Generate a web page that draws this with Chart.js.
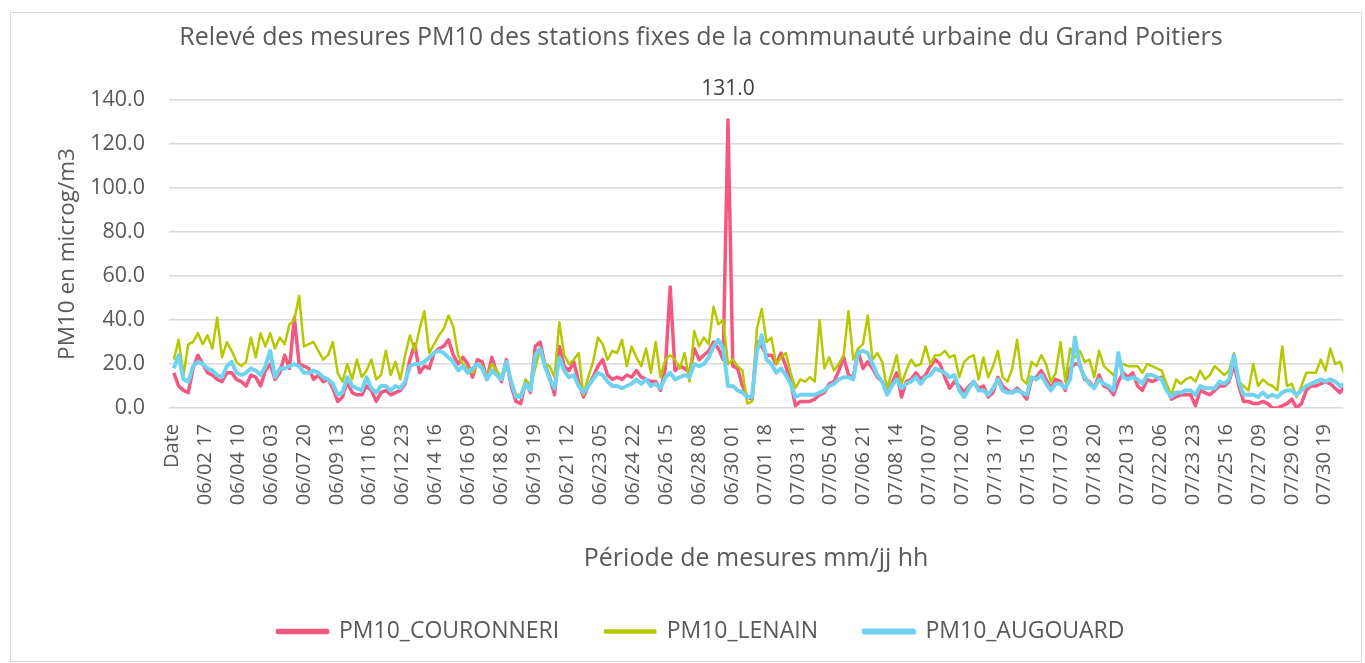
<!DOCTYPE html>
<html lang="fr">
<head>
<meta charset="utf-8">
<title>Relevé PM10 - Grand Poitiers</title>
<script src="https://cdn.jsdelivr.net/npm/chart.js@4.4.1/dist/chart.umd.min.js"></script>
<style>
	html, body { margin: 0; padding: 0; background: #fff; }
	.frame { position: absolute; left: 10px; top: 12px; width: 1350px; height: 648px; border: 1px solid #d9d9d9; }
	.wrap  { position: absolute; left: 0; top: 0; width: 1365px; height: 663px; }
</style>
</head>
<body>
<div class="frame"></div>
<div class="wrap"><canvas id="pm10-chart"></canvas></div>
<script>
var TITLE        = 'Relevé des mesures PM10 des stations fixes de la communauté urbaine du Grand Poitiers';
var SERIES_NAMES = [ 'PM10_COURONNERI', 'PM10_LENAIN', 'PM10_AUGOUARD' ];

// one label every 41 hourly categories, as on the original axis
var TICK_LABELS = [
	'Date', '06/02 17', '06/04 10', '06/06 03', '06/07 20', '06/09 13', '06/11 06', '06/12 23',
	'06/14 16', '06/16 09', '06/18 02', '06/19 19', '06/21 12', '06/23 05', '06/24 22', '06/26 15',
	'06/28 08', '06/30 01', '07/01 18', '07/03 11', '07/05 04', '07/06 21', '07/08 14', '07/10 07',
	'07/12 00', '07/13 17', '07/15 10', '07/17 03', '07/18 20', '07/20 13', '07/22 06', '07/23 23',
	'07/25 16', '07/27 09', '07/29 02', '07/30 19'
];
var TICK_STEP   = 41;
var FIRST_HOUR  = 2;  // category index of the first reading kept
var SAMPLE_STEP = 6;  // one reading every 6 hours

// readings in microg/m3, 4 per day, from 06/01 to 07/31
var COURONNERI = [
	16, 10, 8, 7,   18, 24, 20, 16,  15, 13, 12, 16,  16, 13, 12, 10,
	15, 14, 10, 17, 20, 13, 16, 24,  18, 41, 20, 19,  18, 13, 15, 12,
	13, 9, 3, 5,    12, 7, 6, 6,     10, 8, 3, 7,     8, 6, 7, 8,
	11, 22, 29, 16, 19, 18, 25, 27,  28, 31, 24, 20,  23, 20, 14, 22,
	21, 13, 23, 16, 12, 22, 10, 3,   2, 12, 7, 28,    30, 20, 14, 6,
	28, 19, 17, 21, 12, 5, 10, 14,   19, 22, 15, 13,  14, 13, 15, 14,
	17, 14, 13, 12, 12, 8, 18, 55,   17, 19, 18, 16,  27, 22, 24, 26,
	30, 27, 22, 131, 19, 18, 10, 5,  4, 30, 28, 24,   24, 20, 25, 19,
	12, 1, 3, 3,    3, 4, 6, 7,      11, 12, 17, 23,  15, 14, 26, 18,
	21, 18, 14, 12, 8, 11, 16, 5,    12, 13, 16, 13,  15, 19, 22, 20,
	14, 9, 12, 10,  7, 10, 12, 9,    10, 5, 7, 14,    10, 8, 7, 9,
	7, 4, 13, 14,   17, 13, 9, 13,   12, 8, 18, 20,   20, 13, 12, 9,
	15, 10, 9, 6,   12, 16, 14, 16,  10, 8, 13, 12,   13, 14, 10, 4,
	5, 6, 6, 6,     1, 8, 7, 6,      8, 10, 10, 12,   20, 10, 3, 3,
	2, 2, 3, 2,     0, 0, 1, 2,      4, 0, 2, 8,      10, 10, 11, 12,
	11, 9, 7, 10
];
var LENAIN = [
	22, 31, 15, 29, 30, 34, 29, 33,  27, 41, 23, 30,  26, 21, 19, 21,
	32, 23, 34, 28, 34, 27, 32, 29,  38, 40, 51, 28,  29, 30, 26, 22,
	24, 30, 16, 12, 20, 13, 22, 14,  17, 22, 13, 15,  26, 15, 21, 13,
	24, 33, 26, 36, 44, 25, 29, 33,  36, 42, 37, 24,  20, 18, 16, 20,
	19, 14, 20, 17, 14, 20, 12, 6,   6, 13, 10, 18,   27, 20, 19, 14,
	39, 24, 20, 22, 25, 6, 14, 21,   32, 29, 22, 26,  25, 31, 19, 28,
	23, 19, 27, 16, 30, 14, 22, 24,  22, 18, 25, 12,  35, 28, 32, 29,
	46, 38, 40, 20, 22, 19, 17, 2,   3, 36, 45, 30,   32, 20, 23, 25,
	16, 9, 13, 12,  14, 12, 40, 18,  23, 17, 20, 24,  44, 22, 27, 29,
	42, 22, 25, 21, 9, 16, 24, 11,   17, 22, 19, 20,  28, 20, 24, 24,
	26, 23, 24, 14, 21, 23, 24, 13,  23, 14, 19, 26,  14, 12, 18, 31,
	13, 11, 21, 19, 24, 20, 12, 16,  30, 12, 27, 23,  26, 21, 22, 14,
	26, 19, 17, 15, 20, 20, 19, 19,  19, 16, 20, 19,  18, 17, 11, 6,
	13, 11, 13, 14, 12, 17, 13, 15,  19, 17, 15, 17,  25, 12, 10, 8,
	20, 10, 13, 11, 10, 8, 28, 10,   11, 5, 10, 16,   16, 16, 22, 17,
	27, 20, 21, 15
];
var AUGOUARD = [
	18, 24, 13, 12, 19, 21, 20, 18,  17, 15, 14, 19,  21, 16, 15, 16,
	18, 17, 15, 19, 26, 14, 18, 18,  19, 20, 19, 16,  16, 17, 16, 14,
	13, 11, 6, 7,   14, 10, 9, 8,    14, 9, 7, 10,    10, 8, 10, 9,
	12, 19, 20, 20, 21, 23, 25, 26,  25, 23, 21, 17,  19, 16, 18, 20,
	18, 13, 17, 15, 13, 21, 12, 5,   5, 11, 8, 24,    27, 19, 13, 9,
	23, 17, 14, 15, 10, 7, 10, 13,   16, 15, 12, 10,  10, 9, 10, 11,
	13, 11, 13, 10, 11, 9, 14, 16,   13, 14, 15, 14,  20, 19, 20, 23,
	28, 31, 27, 10, 10, 8, 7, 5,     5, 26, 33, 22,   20, 16, 18, 15,
	11, 5, 6, 6,    6, 6, 7, 8,      10, 11, 13, 14,  14, 13, 25, 26,
	25, 20, 15, 12, 6, 10, 13, 9,    11, 12, 14, 11,  14, 15, 18, 17,
	16, 14, 15, 8,  5, 9, 12, 8,     8, 6, 9, 13,     8, 7, 7, 8,
	7, 6, 14, 13,   15, 11, 8, 11,   11, 9, 13, 32,   19, 14, 11, 9,
	13, 11, 10, 8,  25, 14, 13, 14,  13, 11, 15, 15,  14, 13, 8, 5,
	7, 7, 8, 8,     6, 10, 9, 9,     9, 12, 11, 13,   24, 12, 6, 6,
	6, 5, 7, 5,     6, 5, 7, 8,      8, 6, 8, 10,     11, 12, 13, 12,
	13, 12, 10, 11
];

( function () {
	'use strict';

	var Chart = window.Chart;
	if ( ! Chart ) {
		return;
	}

	var TEXT = '#595959';
	var FONT = '"Open Sans", "Noto Sans", sans-serif';

	function points( values ) {
		var out = [];
		for ( var i = 0; i < values.length; i++ ) {
			out.push( { x: FIRST_HOUR + i * SAMPLE_STEP, y: values[ i ] } );
		}
		return out;
	}

	function series( label, values, color, width, order ) {
		return {
			label:           label,
			data:            points( values ),
			borderColor:     color,
			backgroundColor: color,
			borderWidth:     width,
			borderJoinStyle: 'round',
			pointRadius:     0,
			tension:         0,
			order:           order,
		};
	}

	// "131.0" above the highest COURONNERI reading
	var peakLabel = {
		id: 'peakLabel',
		afterDatasetsDraw: function ( chart ) {
			var meta = chart.getDatasetMeta( 0 );
			var best = 0;
			for ( var i = 1; i < COURONNERI.length; i++ ) {
				if ( COURONNERI[ i ] > COURONNERI[ best ] ) {
					best = i;
				}
			}
			var el  = meta.data[ best ];
			var ctx = chart.ctx;
			ctx.save();
			ctx.font         = '21px ' + FONT;
			ctx.fillStyle    = '#404040';
			ctx.textAlign    = 'center';
			ctx.textBaseline = 'middle';
			ctx.fillText( COURONNERI[ best ].toFixed( 1 ), el.x, el.y - 31 );
			ctx.restore();
		},
	};

	new Chart( document.getElementById( 'pm10-chart' ), {
		type: 'line',
		data: {
			datasets: [
				series( SERIES_NAMES[ 0 ], COURONNERI, '#f5587f', 3.5, 3 ),
				series( SERIES_NAMES[ 1 ], LENAIN, '#b6c800', 2.5, 2 ),
				series( SERIES_NAMES[ 2 ], AUGOUARD, '#6fd3f0', 4, 1 ),
			],
		},
		plugins: [ peakLabel ],
		options: {
			responsive:          true,
			maintainAspectRatio: false,
			animation:           false,
			devicePixelRatio:    1,
			layout:              { padding: { top: 12, left: 54, right: 17, bottom: 10 } },
			plugins: {
				title: {
					display: true,
					text:    TITLE,
					color:   TEXT,
					font:    { family: FONT, size: 25, weight: 'normal' },
					padding: { top: 11, bottom: 47 },
				},
				legend: {
					position: 'bottom',
					labels:   {
						color:     TEXT,
						font:      { family: FONT, size: 23 },
						boxWidth:  50,
						boxHeight: 2,
						padding:   46,
						sort:      function ( a, b ) {
							return a.datasetIndex - b.datasetIndex;
						},
					},
				},
				tooltip: { enabled: false },
			},
			scales: {
				x: {
					type: 'linear',
					min:  -4,
					max:  1458,
					afterBuildTicks: function ( scale ) {
						scale.ticks = TICK_LABELS.map( function ( l, i ) {
							return { value: i * TICK_STEP };
						} );
					},
					afterFit: function ( scale ) {
						scale.height = 166;
					},
					ticks: {
						autoSkip:    false,
						maxRotation: 90,
						minRotation: 90,
						padding:     16,
						color:       TEXT,
						font:        { family: FONT, size: 20 },
						callback:    function ( v, i ) {
							return TICK_LABELS[ i ];
						},
					},
					grid:   { display: false, drawTicks: false },
					border: { display: false },
					title:  {
						display: true,
						text:    'Période de mesures mm/jj hh',
						color:   TEXT,
						font:    { family: FONT, size: 25 },
						padding: { top: 0, bottom: 0 },
					},
				},
				y: {
					min: 0,
					max: 140,
					afterFit: function ( scale ) {
						scale.width = 115;
					},
					ticks: {
						stepSize: 20,
						padding:  24,
						color:    TEXT,
						font:     { family: FONT, size: 21.5 },
						callback: function ( v ) {
							return v.toFixed( 1 );
						},
					},
					grid:   { color: '#d9d9d9', lineWidth: 1.5, drawTicks: false },
					border: { display: false },
					title:  {
						display: true,
						text:    'PM10 en microg/m3',
						color:   TEXT,
						font:    { family: FONT, size: 22.5 },
						padding: { top: 0, bottom: 0 },
					},
				},
			},
		},
	} );
} )();
</script>
</body>
</html>
